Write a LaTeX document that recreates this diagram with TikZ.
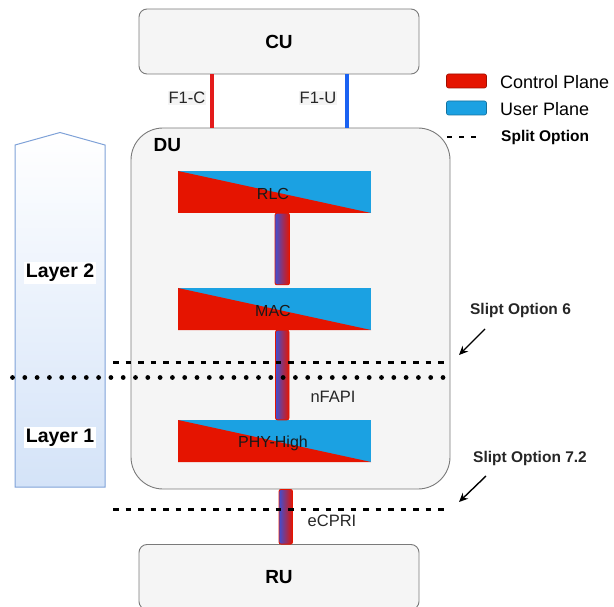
\documentclass[tikz,border=0pt]{standalone}
\usepackage{fontspec}
\setmainfont{Liberation Sans}
\usetikzlibrary{arrows.meta}

\definecolor{cpred}{HTML}{E51400}
\definecolor{upblue}{HTML}{1BA1E2}
\definecolor{boxfill}{HTML}{F5F5F5}
\definecolor{boxline}{HTML}{7A7A7A}
\definecolor{layerline}{HTML}{7FA2D8}
\definecolor{layerfill}{HTML}{D4E3F8}
\definecolor{fcred}{HTML}{E31B1B}
\definecolor{fublue}{HTML}{1A62F2}
\definecolor{linkblue}{HTML}{3F4FD3}
\definecolor{lblfill}{HTML}{F4F4F4}

\tikzset{
  unitbox/.style={draw=boxline, fill=boxfill, line width=0.9pt, rounded corners=8pt,
    minimum width=280pt, minimum height=65pt, inner sep=0pt,
    font=\fontsize{19}{22}\selectfont\bfseries},
  dubox/.style={draw=boxline, fill=boxfill, line width=0.9pt, rounded corners=32pt,
    minimum width=319pt, minimum height=361pt, inner sep=0pt},
  protoblock/.style={fill=upblue, minimum width=193pt, minimum height=42pt, inner sep=0pt,
    font=\fontsize{16}{18}\selectfont, text=black,
    path picture={\fill[cpred] (path picture bounding box.north west)
      -- (path picture bounding box.south east)
      -- (path picture bounding box.south west) -- cycle;}},
  blocktext/.style={font=\fontsize{16}{18}\selectfont, text=black!90, inner sep=0pt},
  linkbar/.style={left color=linkblue, right color=cpred, draw=cpred, line width=0.9pt,
    rounded corners=2pt},
  lbl/.style={font=\fontsize{16.5}{19}\selectfont, text=black!85, inner sep=1pt},
  boldlbl/.style={font=\fontsize{15.5}{18}\selectfont\bfseries, text=black!85, inner sep=1pt},
  layerlbl/.style={font=\fontsize{19.5}{22}\selectfont\bfseries, fill=white, inner sep=2pt},
  legendswatch/.style={minimum width=40pt, minimum height=14pt, rounded corners=2pt,
    line width=0.6pt, inner sep=0pt},
  splitdash/.style={line width=2.2pt, dash pattern=on 5.5pt off 7pt},
  splitdots/.style={line width=4.8pt, line cap=round, dash pattern=on 0pt off 12.3pt},
  pointer/.style={line width=1.4pt, -{Stealth[length=9pt,width=8pt]}}
}

\begin{document}
\begin{tikzpicture}[x=1pt, y=-1pt]
\useasboundingbox (0,0) rectangle (614,607);

% layer arrow on the left
\shade[top color=white, bottom color=layerfill, draw=layerline, line width=1pt]
  (15,145) -- (60,132.5) -- (105,145) -- (105,487) -- (15,487) -- cycle;

% central and radio units
\node[unitbox] (cu) at (279,41.5) {CU};
\node[dubox] (du) at (290.5,308.5) {};
\node[font=\fontsize{19}{22}\selectfont\bfseries, anchor=west] (dulbl) at (150,145.5) {DU};
\node[unitbox] (ru) at (279,577) {RU};

% protocol stack inside the DU
\node[protoblock] (rlc) at (274.5,192) {};
\node[protoblock] (mac) at (274.5,309) {};
\node[protoblock] (phy) at (274.5,441) {};
\node[blocktext] (rlctxt) at (273,194) {RLC};
\node[blocktext] (mactxt) at (273,311) {MAC};
\node[blocktext] (phytxt) at (273,443) {PHY-High};

% F1 interfaces between CU and DU
\coordinate (f1cx) at (212,0);
\coordinate (f1ux) at (347,0);
\draw[fcred, line width=3.2pt] (cu.south -| f1cx) -- (du.north -| f1cx);
\draw[fublue, line width=3.2pt] (cu.south -| f1ux) -- (du.north -| f1ux);
\node[lbl, fill=lblfill] (f1clbl) at (187,98) {F1-C};
\node[lbl, fill=lblfill] (f1ulbl) at (318,98) {F1-U};

% internal links and fronthaul
\path[linkbar] ([xshift=0.5pt]rlc.south) rectangle ([xshift=15pt,yshift=3pt]mac.north);
\path[linkbar] ([xshift=1pt]mac.south) rectangle ([xshift=14.5pt]phy.north);
\path[linkbar] ([xshift=-11.5pt]du.south) rectangle ([xshift=13.5pt]ru.north);

\node[lbl] (nfapi) at (333,397) {nFAPI};
\node[lbl] (ecpri) at (332,521) {eCPRI};

% split lines
\coordinate (s6a) at (113,362.5);
\coordinate (s6b) at (450,362.5);
\coordinate (l12a) at (12.5,377.5);
\coordinate (l12b) at (450,377.5);
\coordinate (s72a) at (113,509.5);
\coordinate (s72b) at (450,509.5);
\draw[splitdash] (s6a) -- (s6b);
\draw[splitdots] (l12a) -- (l12b);
\draw[splitdash] (s72a) -- (s72b);

% layer labels
\node[layerlbl] (l2) at (60,273) {Layer 2};
\node[layerlbl] (l1) at (60,437.5) {Layer 1};

% split option annotations
\node[boldlbl] (opt6) at (520.5,310.5) {Slipt Option 6};
\node[boldlbl] (opt72) at (530,458) {Slipt Option 7.2};
\coordinate (opt6tip) at (459,355);
\coordinate (opt72tip) at (459,502);
\draw[pointer] (485,329) -- (opt6tip);
\draw[pointer] (486,476) -- (opt72tip);

% legend
\node[legendswatch, fill=cpred, draw=cpred!70!black] (lgc) at (466.5,81) {};
\node[legendswatch, fill=upblue, draw=upblue!70!black] (lgu) at (466.5,108) {};
\coordinate (lgsa) at (447,137);
\coordinate (lgsb) at (480,137);
\draw[line width=2pt, dash pattern=on 5pt off 7pt] (lgsa) -- (lgsb);
\node[font=\fontsize{18}{21}\selectfont, anchor=west, inner sep=0pt] (lgctxt) at (500,82) {Control Plane};
\node[font=\fontsize{18}{21}\selectfont, anchor=west, inner sep=0pt] (lgutxt) at (500,109) {User Plane};
\node[font=\fontsize{15.5}{18}\selectfont\bfseries, anchor=west, inner sep=0pt] (lgstxt) at (501,137) {Split Option};
\end{tikzpicture}
\end{document}
